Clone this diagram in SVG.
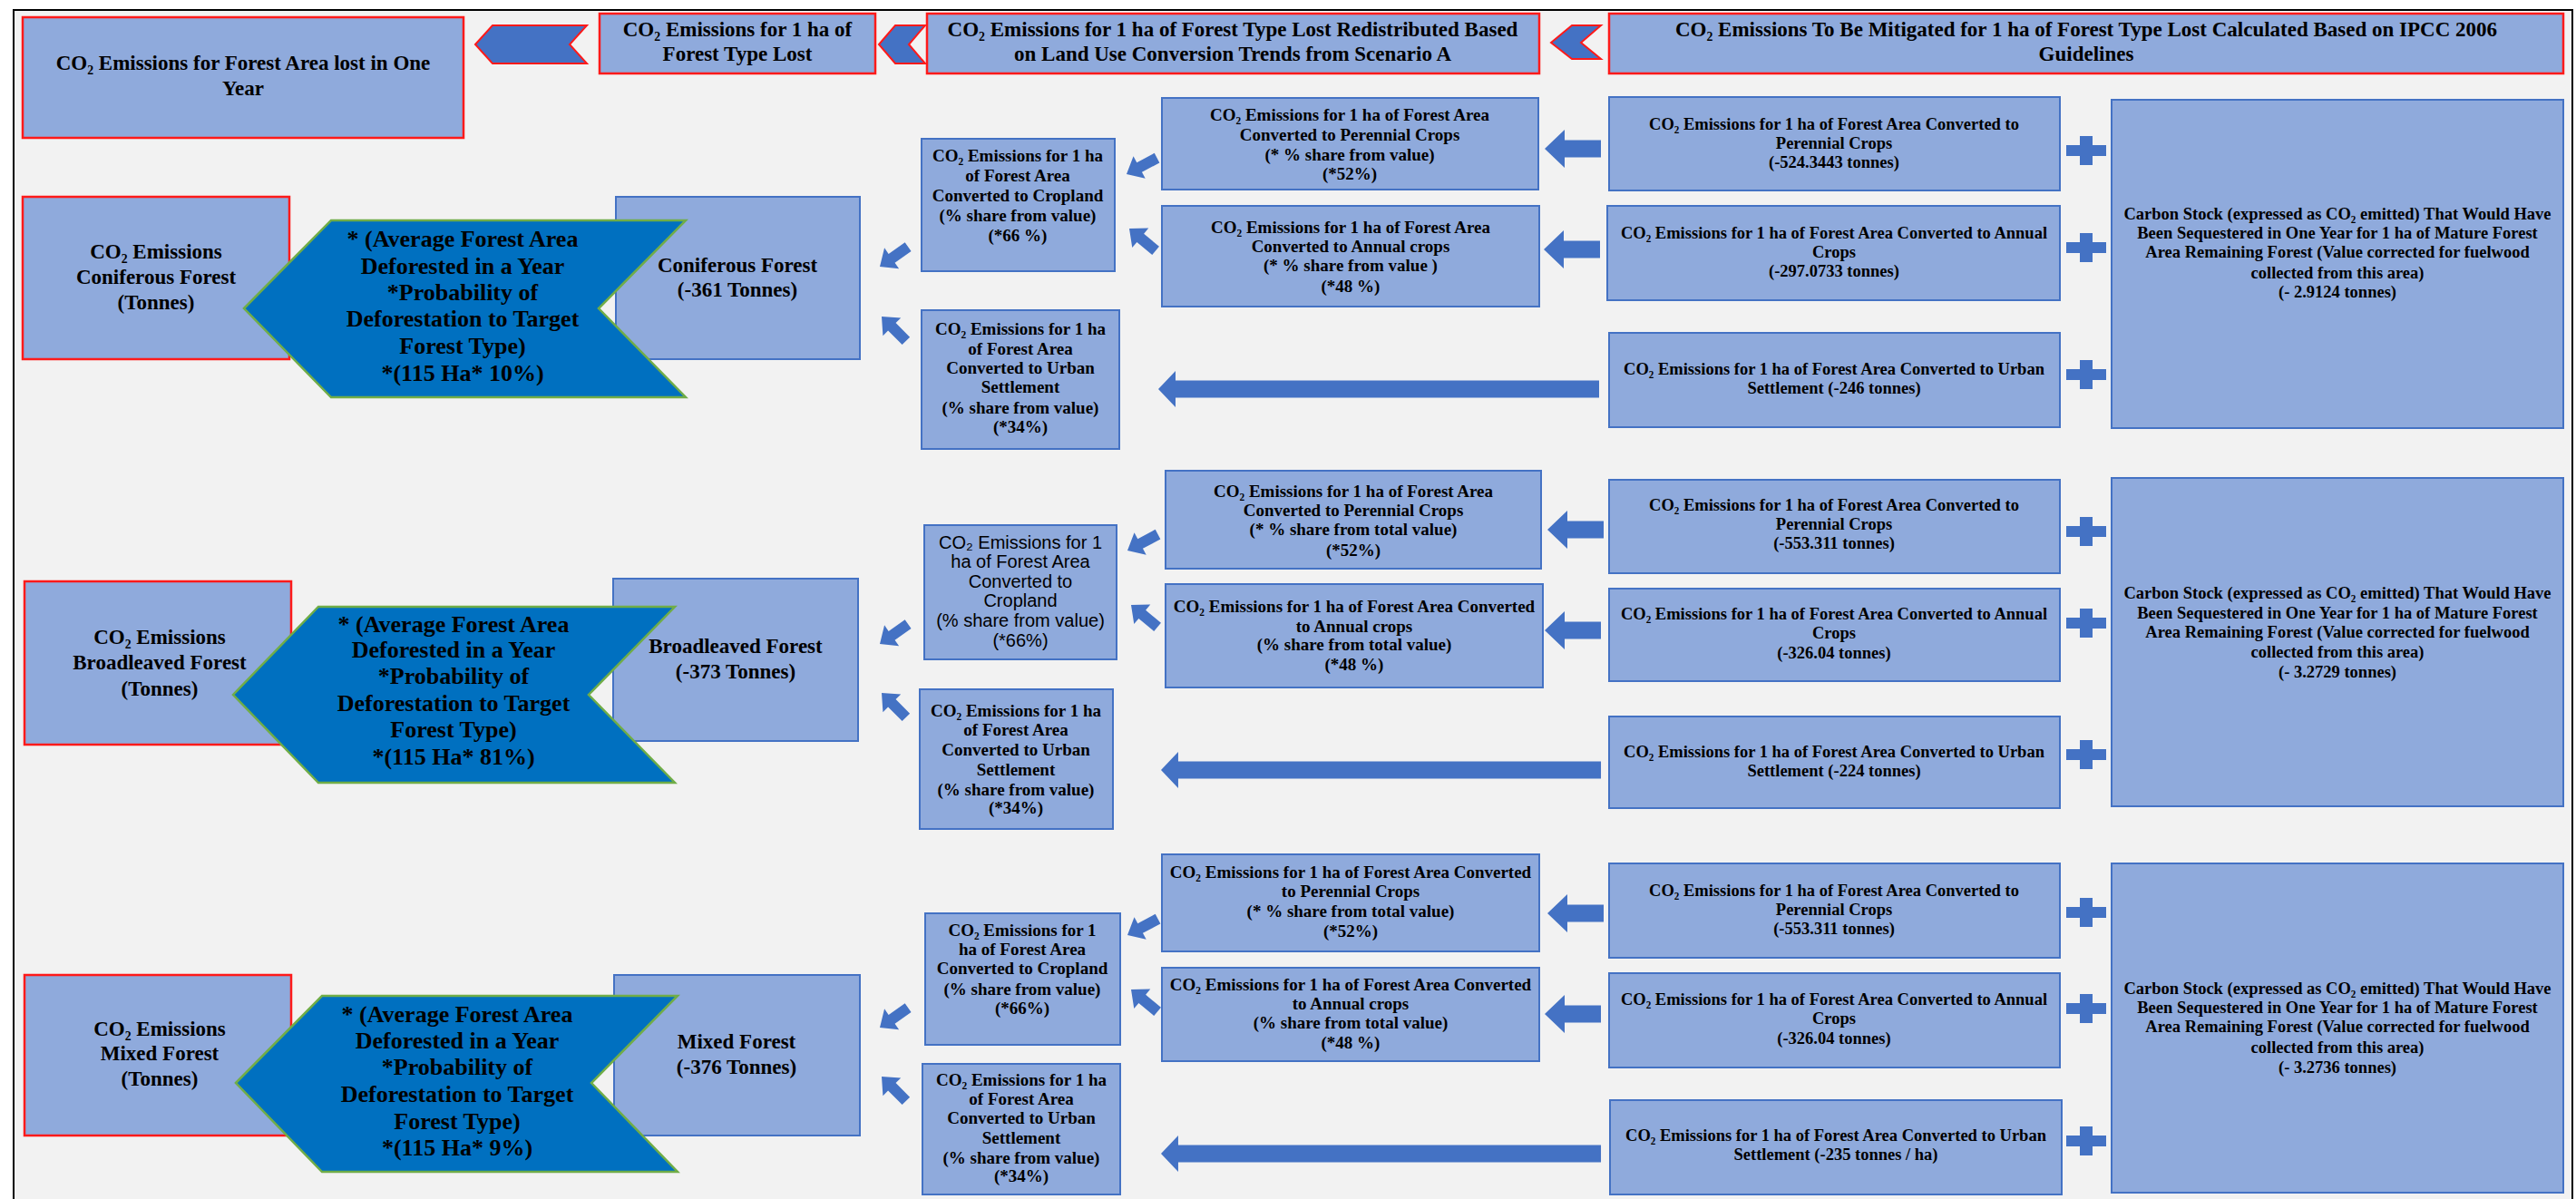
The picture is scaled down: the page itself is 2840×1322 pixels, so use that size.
<svg xmlns="http://www.w3.org/2000/svg" xmlns:xlink="http://www.w3.org/1999/xlink" width="2840" height="1322" viewBox="0 0 2840 1322">
<style>
.bx{fill:#8faadc;stroke:#4472c4;stroke-width:2}
.rb{fill:#8faadc;stroke:#ff1a1a;stroke-width:2.5}
.ar{fill:#4472c4}
.tc{fill:#4472c4;stroke:#ff1a1a;stroke-width:2}
.ch{fill:#0070c0;stroke:#70ad47;stroke-width:2.5}
text{font-family:"Liberation Serif","Times New Roman",serif;font-weight:bold;fill:#000;text-anchor:middle}
.h{font-size:23px}
.c{font-size:26px}
.m{font-size:19px}
.r{font-size:18.5px}
.s{font-family:"Liberation Sans",Arial,sans-serif;font-weight:normal;font-size:20px}
</style>
<defs>
<polygon id="sa" points="0,0 16,-14 16,-6 38,-6 38,6 16,6 16,14"/>
<polygon id="ba" points="0,0 22,-21 22,-9.5 62,-9.5 62,9.5 22,9.5 22,21"/>
<polygon id="la" points="0,0 19,-20 19,-9.5 486,-9.5 486,9.5 19,9.5 19,20"/>
<polygon id="pl" points="-7,-16 7,-16 7,-6 22,-6 22,6 7,6 7,16 -7,16 -7,6 -22,6 -22,-6 -7,-6"/>
</defs>
<rect x="0" y="0" width="2840" height="1322" fill="#ffffff"/>
<rect x="15" y="11" width="2821" height="1311" fill="#f2f2f2"/>
<path d="M15,1322 V11 H2836 V1322" fill="none" stroke="#000" stroke-width="2"/>

<g id="top-total">
<rect class="rb" x="25" y="19" width="486" height="133"/>
<text class="h" x="268" y="77">CO₂ Emissions for Forest Area lost in One</text>
<text class="h" x="268" y="105">Year</text>
</g>
<g id="top-type-lost">
<rect class="rb" x="661" y="15" width="304" height="66"/>
<text class="h" x="813" y="40">CO₂ Emissions for 1 ha of</text>
<text class="h" x="813" y="67">Forest Type Lost</text>
</g>
<g id="top-redistributed">
<rect class="rb" x="1022" y="15" width="675" height="66"/>
<text class="h" x="1359" y="40">CO₂ Emissions for 1 ha of Forest Type Lost Redistributed Based</text>
<text class="h" x="1359" y="67">on Land Use Conversion Trends from Scenario A</text>
</g>
<g id="top-ipcc">
<rect class="rb" x="1774" y="15" width="1052" height="66"/>
<text class="h" x="2300" y="40">CO₂ Emissions To Be Mitigated for 1 ha of Forest Type Lost Calculated Based on IPCC 2006</text>
<text class="h" x="2300" y="67">Guidelines</text>
</g>

<!-- Section 1: Coniferous -->
<g id="s1-total">
<rect class="rb" x="25" y="217" width="294" height="179"/>
<text class="h" x="172" y="285">CO₂ Emissions</text>
<text class="h" x="172" y="313">Coniferous Forest</text>
<text class="h" x="172" y="341">(Tonnes)</text>
</g>
<g id="s1-forest">
<rect class="bx" x="679" y="217" width="269" height="179"/>
<text class="h" x="813" y="300">Coniferous Forest</text>
<text class="h" x="813" y="327">(-361 Tonnes)</text>
</g>
<g id="s1-factor">
<polygon class="ch" points="269,340 365,243 756,243 660,340 756,438 365,438"/>
<text class="c" x="510" y="272">* (Average Forest Area</text>
<text class="c" x="510" y="302">Deforested in a Year</text>
<text class="c" x="510" y="331">*Probability of</text>
<text class="c" x="510" y="360">Deforestation to Target</text>
<text class="c" x="510" y="390">Forest Type)</text>
<text class="c" x="510" y="420">*(115 Ha* 10%)</text>
</g>
<g id="s1-cropland">
<rect class="bx" x="1016" y="153" width="213" height="146"/>
<text class="m" x="1122" y="178">CO₂ Emissions for 1 ha</text>
<text class="m" x="1122" y="200">of Forest Area</text>
<text class="m" x="1122" y="222">Converted to Cropland</text>
<text class="m" x="1122" y="244">(% share from  value)</text>
<text class="m" x="1122" y="266">(*66 %)</text>
</g>
<g id="s1-perennial">
<rect class="bx" x="1281" y="108" width="415" height="101"/>
<text class="m" x="1488" y="133">CO₂ Emissions for 1 ha of Forest Area</text>
<text class="m" x="1488" y="155">Converted to Perennial Crops</text>
<text class="m" x="1488" y="177">(* % share from value)</text>
<text class="m" x="1488" y="198">(*52%)</text>
</g>
<g id="s1-annual">
<rect class="bx" x="1281" y="227" width="416" height="111"/>
<text class="m" x="1489" y="257">CO₂ Emissions for 1 ha of Forest Area</text>
<text class="m" x="1489" y="278">Converted to Annual crops</text>
<text class="m" x="1489" y="299">(* % share from value )</text>
<text class="m" x="1489" y="322">(*48 %)</text>
</g>
<g id="s1-urban">
<rect class="bx" x="1016" y="342" width="218" height="153"/>
<text class="m" x="1125" y="369">CO₂ Emissions for 1 ha</text>
<text class="m" x="1125" y="391">of Forest Area</text>
<text class="m" x="1125" y="412">Converted to Urban</text>
<text class="m" x="1125" y="433">Settlement</text>
<text class="m" x="1125" y="456">(% share from value)</text>
<text class="m" x="1125" y="477">(*34%)</text>
</g>
<g id="s1-r-perennial">
<rect class="bx" x="1774" y="107" width="497" height="103"/>
<text class="r" x="2022" y="143">CO₂ Emissions for 1 ha of Forest Area Converted to</text>
<text class="r" x="2022" y="164">Perennial Crops</text>
<text class="r" x="2022" y="185">(-524.3443 tonnes)</text>
</g>
<g id="s1-r-annual">
<rect class="bx" x="1772" y="227" width="499" height="104"/>
<text class="r" x="2022" y="263">CO₂ Emissions for 1 ha of Forest Area Converted to Annual</text>
<text class="r" x="2022" y="284">Crops</text>
<text class="r" x="2022" y="305">(-297.0733 tonnes)</text>
</g>
<g id="s1-r-urban">
<rect class="bx" x="1774" y="367" width="497" height="104"/>
<text class="r" x="2022" y="413">CO₂ Emissions for 1 ha of Forest Area Converted to Urban</text>
<text class="r" x="2022" y="434">Settlement  (-246 tonnes)</text>
</g>
<g id="s1-carbon">
<rect class="bx" x="2328" y="110" width="498" height="362"/>
<text class="r" x="2577" y="242">Carbon Stock (expressed as CO₂ emitted) That Would Have</text>
<text class="r" x="2577" y="263">Been Sequestered in One Year for 1 ha of Mature Forest</text>
<text class="r" x="2577" y="284">Area Remaining Forest (Value corrected for fuelwood</text>
<text class="r" x="2577" y="307">collected from this area)</text>
<text class="r" x="2577" y="328">(- 2.9124 tonnes)</text>
</g>

<!-- Section 2: Broadleaved -->
<g id="s2-total">
<rect class="rb" x="27" y="641" width="294" height="180"/>
<text class="h" x="176" y="710">CO₂ Emissions</text>
<text class="h" x="176" y="738">Broadleaved Forest</text>
<text class="h" x="176" y="767">(Tonnes)</text>
</g>
<g id="s2-forest">
<rect class="bx" x="676" y="638" width="270" height="179"/>
<text class="h" x="811" y="720">Broadleaved Forest</text>
<text class="h" x="811" y="748">(-373 Tonnes)</text>
</g>
<g id="s2-factor">
<polygon class="ch" points="257,766 351,669 744,669 649,766 744,863 351,863"/>
<text class="c" x="500" y="697">* (Average Forest Area</text>
<text class="c" x="500" y="725">Deforested in a Year</text>
<text class="c" x="500" y="754">*Probability of</text>
<text class="c" x="500" y="784">Deforestation to Target</text>
<text class="c" x="500" y="813">Forest Type)</text>
<text class="c" x="500" y="843">*(115 Ha* 81%)</text>
</g>
<g id="s2-cropland">
<rect class="bx" x="1019" y="579" width="212" height="148"/>
<text class="s" x="1125" y="605">CO₂ Emissions for 1</text>
<text class="s" x="1125" y="626">ha of  Forest Area</text>
<text class="s" x="1125" y="648">Converted to</text>
<text class="s" x="1125" y="669">Cropland</text>
<text class="s" x="1125" y="691">(% share from  value)</text>
<text class="s" x="1125" y="713">(*66%)</text>
</g>
<g id="s2-perennial">
<rect class="bx" x="1285" y="519" width="414" height="108"/>
<text class="m" x="1492" y="548">CO₂ Emissions for 1 ha of Forest Area</text>
<text class="m" x="1492" y="569">Converted to Perennial Crops</text>
<text class="m" x="1492" y="590">(* % share from total value)</text>
<text class="m" x="1492" y="613">(*52%)</text>
</g>
<g id="s2-annual">
<rect class="bx" x="1285" y="644" width="416" height="114"/>
<text class="m" x="1493" y="675">CO₂ Emissions for 1 ha of Forest Area Converted</text>
<text class="m" x="1493" y="697">to Annual crops</text>
<text class="m" x="1493" y="717">(% share from total value)</text>
<text class="m" x="1493" y="739">(*48 %)</text>
</g>
<g id="s2-urban">
<rect class="bx" x="1014" y="760" width="213" height="154"/>
<text class="m" x="1120" y="790">CO₂ Emissions for 1 ha</text>
<text class="m" x="1120" y="811">of Forest Area</text>
<text class="m" x="1120" y="833">Converted to Urban</text>
<text class="m" x="1120" y="855">Settlement</text>
<text class="m" x="1120" y="877">(% share from value)</text>
<text class="m" x="1120" y="897">(*34%)</text>
</g>
<g id="s2-r-perennial">
<rect class="bx" x="1774" y="529" width="497" height="103"/>
<text class="r" x="2022" y="563">CO₂ Emissions for 1 ha of Forest Area Converted to</text>
<text class="r" x="2022" y="584">Perennial Crops</text>
<text class="r" x="2022" y="605">(-553.311 tonnes)</text>
</g>
<g id="s2-r-annual">
<rect class="bx" x="1774" y="649" width="497" height="102"/>
<text class="r" x="2022" y="683">CO₂ Emissions for 1 ha of Forest Area Converted to Annual</text>
<text class="r" x="2022" y="704">Crops</text>
<text class="r" x="2022" y="726">(-326.04 tonnes)</text>
</g>
<g id="s2-r-urban">
<rect class="bx" x="1774" y="790" width="497" height="101"/>
<text class="r" x="2022" y="835">CO₂ Emissions for 1 ha of Forest Area Converted to Urban</text>
<text class="r" x="2022" y="856">Settlement (-224 tonnes)</text>
</g>
<g id="s2-carbon">
<rect class="bx" x="2328" y="527" width="498" height="362"/>
<text class="r" x="2577" y="660">Carbon Stock (expressed as CO₂ emitted) That Would Have</text>
<text class="r" x="2577" y="682">Been Sequestered in One Year for 1 ha of Mature Forest</text>
<text class="r" x="2577" y="703">Area Remaining Forest (Value corrected for fuelwood</text>
<text class="r" x="2577" y="725">collected from this area)</text>
<text class="r" x="2577" y="747">(- 3.2729 tonnes)</text>
</g>

<!-- Section 3: Mixed -->
<g id="s3-total">
<rect class="rb" x="27" y="1075" width="294" height="177"/>
<text class="h" x="176" y="1142">CO₂ Emissions</text>
<text class="h" x="176" y="1169">Mixed Forest</text>
<text class="h" x="176" y="1197">(Tonnes)</text>
</g>
<g id="s3-forest">
<rect class="bx" x="677" y="1075" width="271" height="177"/>
<text class="h" x="812" y="1156">Mixed Forest</text>
<text class="h" x="812" y="1184">(-376 Tonnes)</text>
</g>
<g id="s3-factor">
<polygon class="ch" points="260,1194 355,1098 747,1098 652,1194 747,1292 355,1292"/>
<text class="c" x="504" y="1127">* (Average Forest Area</text>
<text class="c" x="504" y="1156">Deforested in a Year</text>
<text class="c" x="504" y="1185">*Probability of</text>
<text class="c" x="504" y="1215">Deforestation to Target</text>
<text class="c" x="504" y="1245">Forest Type)</text>
<text class="c" x="504" y="1274">*(115 Ha* 9%)</text>
</g>
<g id="s3-cropland">
<rect class="bx" x="1020" y="1007" width="215" height="145"/>
<text class="m" x="1127" y="1032">CO₂ Emissions for 1</text>
<text class="m" x="1127" y="1053">ha of  Forest Area</text>
<text class="m" x="1127" y="1074">Converted to Cropland</text>
<text class="m" x="1127" y="1097">(% share from value)</text>
<text class="m" x="1127" y="1118">(*66%)</text>
</g>
<g id="s3-perennial">
<rect class="bx" x="1281" y="942" width="416" height="107"/>
<text class="m" x="1489" y="968">CO₂ Emissions for 1 ha of Forest Area Converted</text>
<text class="m" x="1489" y="989">to Perennial Crops</text>
<text class="m" x="1489" y="1011">(* % share from total value)</text>
<text class="m" x="1489" y="1033">(*52%)</text>
</g>
<g id="s3-annual">
<rect class="bx" x="1281" y="1067" width="416" height="103"/>
<text class="m" x="1489" y="1092">CO₂ Emissions for 1 ha of Forest Area Converted</text>
<text class="m" x="1489" y="1113">to Annual crops</text>
<text class="m" x="1489" y="1134">(% share from total value)</text>
<text class="m" x="1489" y="1156">(*48 %)</text>
</g>
<g id="s3-urban">
<rect class="bx" x="1017" y="1173" width="218" height="144"/>
<text class="m" x="1126" y="1197">CO₂ Emissions for 1 ha</text>
<text class="m" x="1126" y="1218">of Forest Area</text>
<text class="m" x="1126" y="1239">Converted to Urban</text>
<text class="m" x="1126" y="1261">Settlement</text>
<text class="m" x="1126" y="1283">(% share from  value)</text>
<text class="m" x="1126" y="1303">(*34%)</text>
</g>
<g id="s3-r-perennial">
<rect class="bx" x="1774" y="952" width="497" height="104"/>
<text class="r" x="2022" y="988">CO₂ Emissions for 1 ha of Forest Area Converted to</text>
<text class="r" x="2022" y="1009">Perennial Crops</text>
<text class="r" x="2022" y="1030">(-553.311 tonnes)</text>
</g>
<g id="s3-r-annual">
<rect class="bx" x="1774" y="1073" width="497" height="104"/>
<text class="r" x="2022" y="1108">CO₂ Emissions for 1 ha of Forest Area Converted to Annual</text>
<text class="r" x="2022" y="1129">Crops</text>
<text class="r" x="2022" y="1151">(-326.04 tonnes)</text>
</g>
<g id="s3-r-urban">
<rect class="bx" x="1775" y="1213" width="498" height="104"/>
<text class="r" x="2024" y="1258">CO₂ Emissions for 1 ha of Forest Area Converted to Urban</text>
<text class="r" x="2024" y="1279">Settlement (-235 tonnes / ha)</text>
</g>
<g id="s3-carbon">
<rect class="bx" x="2328" y="952" width="498" height="363"/>
<text class="r" x="2577" y="1096">Carbon Stock (expressed as CO₂ emitted) That Would Have</text>
<text class="r" x="2577" y="1117">Been Sequestered in One Year for 1 ha of Mature Forest</text>
<text class="r" x="2577" y="1138">Area Remaining Forest (Value corrected for fuelwood</text>
<text class="r" x="2577" y="1161">collected from this area)</text>
<text class="r" x="2577" y="1183">(- 3.2736 tonnes)</text>
</g>

<g id="connectors">
<!-- top row chevrons -->
<polygon class="tc" points="524,49 543,28 647,28 628,49 647,70 543,70"/>
<polygon class="tc" points="969,49 987,28 1020,28 1002,49 1020,70 987,70"/>
<polygon class="tc" points="1710,47 1733,28 1765,28 1743,47 1765,65 1733,65"/>
<!-- section 1 -->
<use xlink:href="#sa" class="ar" transform="translate(1242,192) rotate(-28)"/>
<use xlink:href="#sa" class="ar" transform="translate(1245,252) rotate(40)"/>
<use xlink:href="#sa" class="ar" transform="translate(970,294) rotate(-35)"/>
<use xlink:href="#sa" class="ar" transform="translate(972,349) rotate(45)"/>
<use xlink:href="#ba" class="ar" transform="translate(1703,164)"/>
<use xlink:href="#ba" class="ar" transform="translate(1702,275)"/>
<use xlink:href="#la" class="ar" transform="translate(1277,429)"/>
<use xlink:href="#pl" class="ar" transform="translate(2300,166)"/>
<use xlink:href="#pl" class="ar" transform="translate(2300,273)"/>
<use xlink:href="#pl" class="ar" transform="translate(2300,413)"/>
<!-- section 2 -->
<use xlink:href="#sa" class="ar" transform="translate(1243,607) rotate(-28)"/>
<use xlink:href="#sa" class="ar" transform="translate(1247,667) rotate(40)"/>
<use xlink:href="#sa" class="ar" transform="translate(970,710) rotate(-35)"/>
<use xlink:href="#sa" class="ar" transform="translate(972,764) rotate(45)"/>
<use xlink:href="#ba" class="ar" transform="translate(1706,584)"/>
<use xlink:href="#ba" class="ar" transform="translate(1703,695)"/>
<use xlink:href="#la" class="ar" transform="translate(1280,849) scale(0.998,1)"/>
<use xlink:href="#pl" class="ar" transform="translate(2300,586)"/>
<use xlink:href="#pl" class="ar" transform="translate(2300,687)"/>
<use xlink:href="#pl" class="ar" transform="translate(2300,832)"/>
<!-- section 3 -->
<use xlink:href="#sa" class="ar" transform="translate(1243,1031) rotate(-28)"/>
<use xlink:href="#sa" class="ar" transform="translate(1247,1091) rotate(40)"/>
<use xlink:href="#sa" class="ar" transform="translate(970,1133) rotate(-35)"/>
<use xlink:href="#sa" class="ar" transform="translate(972,1187) rotate(45)"/>
<use xlink:href="#ba" class="ar" transform="translate(1706,1007)"/>
<use xlink:href="#ba" class="ar" transform="translate(1703,1118)"/>
<use xlink:href="#la" class="ar" transform="translate(1280,1272) scale(0.998,1)"/>
<use xlink:href="#pl" class="ar" transform="translate(2300,1006)"/>
<use xlink:href="#pl" class="ar" transform="translate(2300,1112)"/>
<use xlink:href="#pl" class="ar" transform="translate(2300,1258)"/>
</g>
</svg>
